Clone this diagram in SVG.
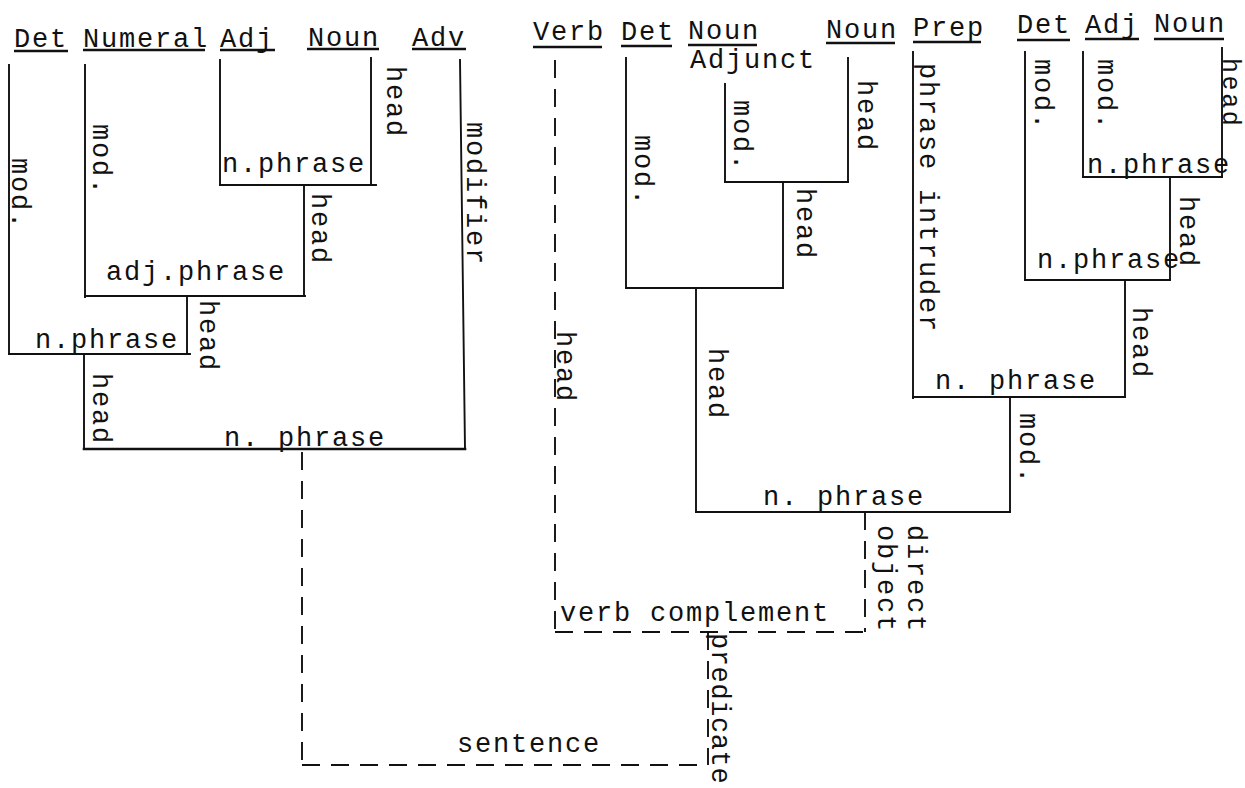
<svg xmlns="http://www.w3.org/2000/svg" width="1245" height="788" viewBox="0 0 1245 788">
<style>
text{font-family:"Liberation Mono","DejaVu Sans Mono",monospace;font-size:27px;letter-spacing:1.8px;fill:#111}
.l{stroke:#111;stroke-width:1.9;fill:none;stroke-linecap:square}
.d{stroke:#111;stroke-width:1.9;fill:none;stroke-dasharray:18 11}
.u{stroke:#111;stroke-width:2.4}
</style>
<rect width="1245" height="788" fill="#fff"/>
<g id="words">
<g id="w-det1"><text x="14" y="47">Det</text><line class="u" x1="14" y1="51" x2="68" y2="51"/></g>
<g id="w-numeral"><text x="83" y="47">Numeral</text><line class="u" x1="83" y1="50" x2="205" y2="50"/></g>
<g id="w-adj1"><text x="220" y="47">Adj</text><line class="u" x1="220" y1="50" x2="275" y2="50"/></g>
<g id="w-noun1"><text x="308" y="46">Noun</text><line class="u" x1="307" y1="49" x2="379" y2="49"/></g>
<g id="w-adv"><text x="412" y="46">Adv</text><line class="u" x1="412" y1="49" x2="466" y2="49"/></g>
<g id="w-verb"><text x="533" y="40">Verb</text><line class="u" x1="533" y1="47" x2="602" y2="47"/></g>
<g id="w-det2"><text x="621" y="40">Det</text><line class="u" x1="621" y1="46" x2="672" y2="46"/></g>
<g id="w-noun2"><text x="688" y="39">Noun</text><line class="u" x1="688" y1="45" x2="757" y2="45"/><text x="690" y="68">Adjunct</text></g>
<g id="w-noun3"><text x="826" y="38">Noun</text><line class="u" x1="826" y1="43" x2="895" y2="43"/></g>
<g id="w-prep"><text x="913" y="36">Prep</text><line class="u" x1="913" y1="42" x2="981" y2="42"/></g>
<g id="w-det3"><text x="1017" y="33">Det</text><line class="u" x1="1017" y1="40" x2="1070" y2="40"/></g>
<g id="w-adj2"><text x="1085" y="33">Adj</text><line class="u" x1="1085" y1="39" x2="1139" y2="39"/></g>
<g id="w-noun4"><text x="1154" y="32">Noun</text><line class="u" x1="1154" y1="39" x2="1224" y2="39"/></g>
</g>
<g id="phrases">
<g id="p-np1"><line class="l" x1="220" y1="185" x2="376" y2="185"/><text x="222" y="172">n.phrase</text></g>
<g id="p-adjp"><line class="l" x1="85" y1="296" x2="305" y2="296"/><text x="106" y="280">adj.phrase</text></g>
<g id="p-np2"><line class="l" x1="9" y1="354" x2="190" y2="354"/><text x="35" y="348">n.phrase</text></g>
<g id="p-np3"><line class="l" x1="84" y1="449" x2="465" y2="449" style="stroke-width:2.6"/><text x="224" y="446">n. phrase</text></g>
<g id="p-np4"><line class="l" x1="725" y1="182" x2="848" y2="182"/></g>
<g id="p-np5"><line class="l" x1="626" y1="288" x2="783" y2="288"/></g>
<g id="p-np6"><line class="l" x1="1083" y1="177" x2="1222" y2="177"/><text x="1087" y="173">n.phrase</text></g>
<g id="p-np7"><line class="l" x1="1025" y1="280" x2="1170" y2="280"/><text x="1037" y="268">n.phrase</text></g>
<g id="p-np8"><line class="l" x1="913" y1="397" x2="1125" y2="397"/><text x="935" y="389">n. phrase</text></g>
<g id="p-np9"><line class="l" x1="696" y1="512" x2="1010" y2="512"/><text x="763" y="505">n. phrase</text></g>
<g id="p-vc"><path class="d" d="M555,632 H865"/><text x="560" y="621">verb complement</text></g>
<g id="p-s"><path class="d" d="M302,765 H708"/><text x="457" y="752">sentence</text></g>
</g>
<g id="connectors">
<path class="l" d="M9,65 V354 M187,297 V354 M85,65 V297 M304,185 V296 M220,60 V185 M371,58 V185 M84,355 V449"/>
<path class="l" d="M460,60 L465,449"/>
<path class="l" d="M626,58 V288 M783,182 V288 M725,84 V182 M848,58 V182 M696,288 V512 M1010,397 V512 M913,52 V398 M1125,280 V397 M1025,52 V280 M1170,177 V280 M1083,52 V177 M1222,48 V177"/>
<path class="d" d="M555,60 V632 M865,512 V632 M302,452 V765 M708,632 V765"/>
<g id="rel-labels">
<text transform="translate(12,158) rotate(90)">mod.</text>
<text transform="translate(93,124) rotate(90)">mod.</text>
<text transform="translate(387,66) rotate(90)">head</text>
<text transform="translate(312,193) rotate(90)">head</text>
<text transform="translate(467,122) rotate(90)">modifier</text>
<text transform="translate(200,300) rotate(90)">head</text>
<text transform="translate(93,373) rotate(90)">head</text>
<text transform="translate(557,331) rotate(90)">head</text>
<text transform="translate(635,135) rotate(90)">mod.</text>
<text transform="translate(734,100) rotate(90)">mod.</text>
<text transform="translate(858,80) rotate(90)">head</text>
<text transform="translate(797,188) rotate(90)">head</text>
<text transform="translate(709,348) rotate(90)">head</text>
<text transform="translate(920,63) rotate(90)">phrase intruder</text>
<text transform="translate(1035,59) rotate(90)">mod.</text>
<text transform="translate(1098,59) rotate(90)">mod.</text>
<text transform="translate(1223,58) rotate(90)" style="font-size:25px;letter-spacing:2.6px">head</text>
<text transform="translate(1180,196) rotate(90)">head</text>
<text transform="translate(1133,307) rotate(90)">head</text>
<text transform="translate(1020,413) rotate(90)">mod.</text>
<text transform="translate(908,525) rotate(90)">direct</text>
<text transform="translate(878,525) rotate(90)">object</text>
<text transform="translate(712,633) rotate(90)" style="letter-spacing:0.6px">predicate</text>
</g>
</g>
</svg>
